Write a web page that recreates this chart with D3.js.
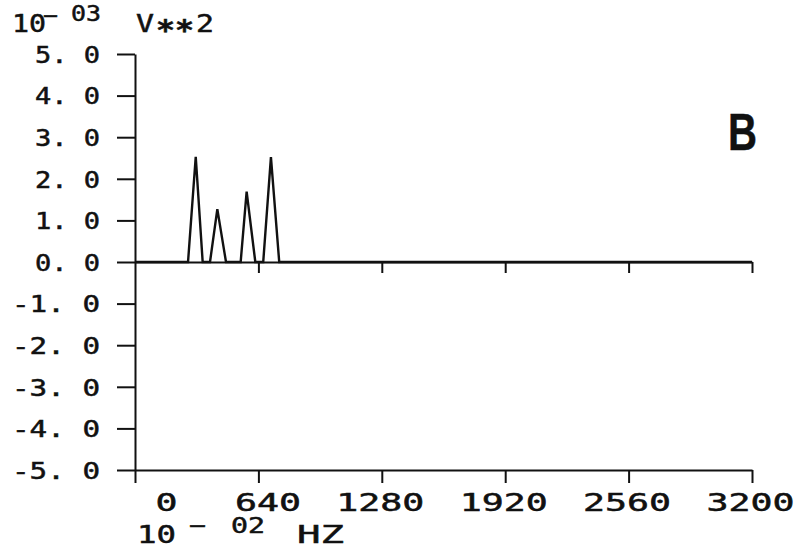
<!DOCTYPE html>
<html>
<head>
<meta charset="utf-8">
<script src="https://cdn.jsdelivr.net/npm/d3@7"></script>
<style>
body { margin: 0; background: #fff; }
text { font-family: "DejaVu Sans Mono", monospace; fill: #111; stroke: #111; stroke-width: 0.5; }
</style>
</head>
<body>
<script>
// spectrum trace (x in 10^-2 Hz, y in 10^-3 V**2)
var freqHz = [0, 275, 315, 351, 389, 427, 472, 548, 579, 624, 665, 705, 748, 3200];
var powerV = [0, 0, 2.53, 0, 0, 1.27, 0, 0, 1.69, 0, 0, 2.52, 0, 0];

var xTicks = [0, 640, 1280, 1920, 2560, 3200];
var xTickLabels = ["0", "640", "1280", "1920", "2560", "3200"];
var yTicks = [5, 4, 3, 2, 1, 0, -1, -2, -3, -4, -5];
var yTickLabels = ["5. 0", "4. 0", "3. 0", "2. 0", "1. 0", "0. 0", "-1. 0", "-2. 0", "-3. 0", "-4. 0", "-5. 0"];
var panelLabel = "B";

const width = 799;
const height = 548;

var svg = d3.select("body").append("svg")
    .attr("width", width)
    .attr("height", height)
    .style("background-color", "#ffffff");

var x = d3.scaleLinear().domain([0, 3200]).range([135, 752]);
var y = d3.scaleLinear().domain([-5, 5]).range([470, 54]);

function styleAxis(g) {
    g.attr("font-family", null).attr("font-size", null);
    g.selectAll(".domain, .tick line")
        .attr("stroke", "#111")
        .attr("stroke-width", 2);
}

// zero line with small downward ticks
svg.append("g")
    .attr("transform", "translate(0," + y(0) + ")")
    .call(d3.axisBottom(x).tickValues(xTicks.slice(1)).tickSize(11).tickSizeOuter(0).tickFormat(""))
    .call(styleAxis);

// bottom axis
var xAxis = svg.append("g")
    .attr("transform", "translate(0," + y(-5) + ")")
    .call(d3.axisBottom(x).tickValues(xTicks).tickSize(13).tickSizeOuter(0)
        .tickFormat(function (d, i) { return xTickLabels[i]; }))
    .call(styleAxis);
xAxis.selectAll("text")
    .attr("text-anchor", "end")
    .attr("x", 42)
    .attr("y", 32)
    .attr("dy", "0.36em")
    .attr("font-size", 24)
    .attr("textLength", function (d, i) { return 22 * xTickLabels[i].length; })
    .attr("lengthAdjust", "spacingAndGlyphs");

// left axis
var yAxis = svg.append("g")
    .attr("transform", "translate(" + x(0) + ",0)")
    .call(d3.axisLeft(y).tickValues(yTicks).tickSize(18).tickSizeOuter(0).tickPadding(17)
        .tickFormat(function (d, i) { return yTickLabels[i]; }))
    .call(styleAxis);
yAxis.selectAll("text")
    .attr("text-anchor", "end")
    .attr("dy", "0.36em")
    .attr("font-size", 23)
    .attr("textLength", function (d, i) { return 23 * yTickLabels[i].length - 27; })
    .attr("lengthAdjust", "spacingAndGlyphs");

// spectrum
var pts = freqHz.map(function (f, i) { return [f, powerV[i]]; });
svg.append("path")
    .datum(pts)
    .attr("fill", "none")
    .attr("stroke", "#111")
    .attr("stroke-width", 2.4)
    .attr("d", d3.line().x(function (d) { return x(d[0]); }).y(function (d) { return y(d[1]); }));

function label(str, px, py, w, size) {
    return svg.append("text")
        .attr("x", px).attr("y", py)
        .attr("font-size", size)
        .attr("textLength", w)
        .attr("lengthAdjust", "spacingAndGlyphs")
        .text(str);
}

// y units: 10^-03 V**2
label("10", 12, 32, 34, 24);
label("\u2212", 43, 23, 15, 22);
label("03", 71, 21, 30, 21);
label("V", 136, 32, 18, 24);
label("**", 156, 40, 38, 28).attr("font-weight", "bold");
label("2", 196, 32, 18, 24);

// x units: 10^-02 HZ
label("10", 137, 543, 39, 24);
label("\u2212", 189, 533, 17, 22);
label("02", 231, 533, 34, 21);
label("HZ", 297, 543, 47, 24);

// panel letter
svg.append("text")
    .attr("x", 728).attr("y", 150)
    .attr("font-size", 51)
    .attr("font-weight", "bold")
    .style("font-family", "'Liberation Sans', Arial, sans-serif")
    .attr("textLength", 29)
    .attr("lengthAdjust", "spacingAndGlyphs")
    .text(panelLabel);
</script>
</body>
</html>
